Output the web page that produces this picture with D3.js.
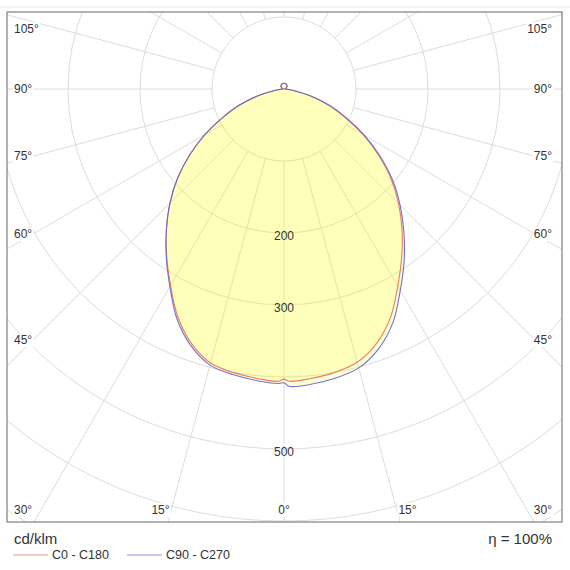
<!DOCTYPE html>
<html>
<head>
<meta charset="utf-8">
<script src="https://cdn.jsdelivr.net/npm/d3@7"></script>
<style>
  body { margin: 0; background: #fff; }
  svg { display: block; font-family: "Liberation Sans", Arial, sans-serif; }
</style>
</head>
<body>
<svg id="chart" width="570" height="570"></svg>
<script>
// luminous intensity distribution, cd/klm
var gamma = [0, 1, 5, 10, 15, 20, 25, 30, 35, 40, 45, 50, 55, 60, 65, 70, 75, 80, 85, 90, 105, 120, 135, 150, 165, 180];
var c0    = [403, 406, 404, 400, 393, 376, 350, 316, 285, 255, 225, 194, 160, 127, 94, 67, 40, 16, 5, 1, 2, 4, 6, 7, 8, 8];
var c180  = [403, 406, 404, 400, 394, 376, 349, 315, 284, 254, 224, 193, 160, 127, 94, 67, 40, 16, 5, 1, 2, 4, 6, 7, 8, 8];
var c90   = [408, 413, 412, 408, 401, 384, 358, 323, 291, 259, 228, 197, 163, 129, 96, 68, 41, 16, 5, 1, 2, 4, 6, 7, 8, 8];
var c270  = [405, 409, 407, 403, 397, 379, 352, 317, 285, 254, 224, 193, 160, 127, 94, 67, 40, 16, 5, 1, 2, 4, 6, 7, 8, 8];

var rings = [100, 200, 300, 400, 500, 600, 700];
var ringLabels = [200, 300, 500];
var spokes = [0, 15, 30, 45, 60, 75, 90, 105, 120, 135, 150, 165, 180];
var sideTicks = [30, 45, 60, 75, 90, 105];
var bottomTicks = [0, 15];

var series = [
  { name: 'C0 - C180', right: c0, left: c180, color: '#e8705a' },
  { name: 'C90 - C270', right: c90, left: c270, color: '#6464cc' }
];

(function () {
  var svg = d3.select('#chart');
  var frame = { left: 7, right: 562, top: 12, bottom: 522 };
  var cx = 284, cy = 89;
  var r = d3.scaleLinear().domain([0, 600]).range([0, 432]);
  var rad = function (deg) { return deg * Math.PI / 180; };

  // faint page edge above the frame
  svg.append('line').attr('x1', 0).attr('x2', 570).attr('y1', 7).attr('y2', 7)
    .attr('stroke', '#ececec');

  svg.append('clipPath').attr('id', 'frameClip').append('rect')
    .attr('x', frame.left).attr('y', frame.top)
    .attr('width', frame.right - frame.left).attr('height', frame.bottom - frame.top);

  var g = svg.append('g').attr('clip-path', 'url(#frameClip)');
  var polar = g.append('g').attr('transform', 'translate(' + cx + ',' + cy + ')');

  // grid circles
  polar.selectAll('circle.ring').data(rings).enter().append('circle')
    .attr('class', 'ring').attr('r', function (d) { return r(d); })
    .attr('fill', 'none').attr('stroke', '#dcdcdc').attr('stroke-width', 1);

  // spokes from the first ring outwards, both sides; 0 deg points down
  var spokeData = [];
  spokes.forEach(function (a) {
    spokeData.push(a);
    if (a !== 0 && a !== 180) spokeData.push(-a);
  });
  polar.selectAll('line.spoke').data(spokeData).enter().append('line')
    .attr('class', 'spoke')
    .attr('x1', function (a) { return r(100) * Math.sin(rad(a)); })
    .attr('y1', function (a) { return r(100) * Math.cos(rad(a)); })
    .attr('x2', function (a) { return r(800) * Math.sin(rad(a)); })
    .attr('y2', function (a) { return r(800) * Math.cos(rad(a)); })
    .attr('stroke', '#dcdcdc').attr('stroke-width', 1);

  // closed outline: right half 0..180 then left half 180..0
  function outline(s) {
    var pts = [];
    gamma.forEach(function (a, i) { pts.push([Math.PI - rad(a), r(s.right[i])]); });
    for (var i = gamma.length - 2; i >= 1; i--) {
      pts.push([Math.PI + rad(gamma[i]), r(s.left[i])]);
    }
    return pts;
  }
  var line = d3.lineRadial()
    .angle(function (d) { return d[0]; })
    .radius(function (d) { return d[1]; })
    .curve(d3.curveCatmullRomClosed.alpha(0.5));

  series.forEach(function (s) {
    polar.append('path').attr('d', line(outline(s)))
      .attr('fill', '#ffff00').attr('fill-opacity', 0.14).attr('stroke', 'none');
  });
  series.forEach(function (s) {
    polar.append('path').attr('d', line(outline(s)))
      .attr('fill', 'none').attr('stroke', s.color).attr('stroke-width', 1.1)
      .attr('stroke-opacity', 0.9);
  });

  // ring labels on the 0 deg spoke
  polar.selectAll('text.ringlab').data(ringLabels).enter().append('text')
    .attr('class', 'ringlab')
    .attr('x', 0).attr('y', function (d) { return r(d) + 3; })
    .attr('dy', '0.35em').attr('text-anchor', 'middle')
    .style('font-size', '12px').style('fill', '#333')
    .text(function (d) { return d; });

  // angle labels with white backing
  var labels = [];
  sideTicks.forEach(function (a) {
    var dx = cx - (frame.left + 26);
    var y = a === 90 ? cy : cy + dx / Math.tan(rad(a));
    y = Math.max(frame.top + 17, Math.min(frame.bottom - 12, y));
    labels.push({ t: a + '°', x: frame.left + 7, y: y, anchor: 'start' });
    labels.push({ t: a + '°', x: frame.right - 10, y: y, anchor: 'end' });
  });
  bottomTicks.forEach(function (a) {
    var off = (frame.bottom - 6 - cy) * Math.tan(rad(a));
    var y = frame.bottom - 12;
    if (a === 0) {
      labels.push({ t: '0°', x: cx, y: y, anchor: 'middle' });
    } else {
      labels.push({ t: a + '°', x: cx - off, y: y, anchor: 'end' });
      labels.push({ t: a + '°', x: cx + off, y: y, anchor: 'start' });
    }
  });
  labels.forEach(function (l) {
    var t = svg.append('text')
      .attr('x', l.x).attr('y', l.y).attr('dy', '0.35em')
      .attr('text-anchor', l.anchor)
      .style('font-size', '12px').style('fill', '#333')
      .text(l.t);
    var bb = t.node().getBBox();
    svg.insert('rect', function () { return t.node(); })
      .attr('x', bb.x - 1).attr('y', bb.y).attr('width', bb.width + 2).attr('height', bb.height)
      .attr('fill', '#fff');
  });

  // frame
  svg.append('rect')
    .attr('x', frame.left).attr('y', frame.top)
    .attr('width', frame.right - frame.left).attr('height', frame.bottom - frame.top)
    .attr('fill', 'none').attr('stroke', '#666').attr('stroke-width', 1);

  // footer
  svg.append('text').attr('x', 14).attr('y', 544)
    .style('font-size', '15px').style('fill', '#333').text('cd/klm');
  svg.append('text').attr('x', 552).attr('y', 544).attr('text-anchor', 'end')
    .style('font-size', '15px').style('fill', '#333').text('\u03b7 = 100%');

  var legend = svg.append('g').attr('transform', 'translate(13,555)');
  series.forEach(function (s, i) {
    var lg = legend.append('g').attr('transform', 'translate(' + (i * 114) + ',0)');
    lg.append('line').attr('x1', 0).attr('x2', 35).attr('y1', 0).attr('y2', 0)
      .attr('stroke', s.color).attr('stroke-opacity', 0.7).attr('stroke-width', 1);
    lg.append('text').attr('x', 39).attr('y', 0).attr('dy', '0.35em')
      .style('font-size', '12.5px').style('fill', '#333').text(s.name);
  });
})();
</script>
</body>
</html>
